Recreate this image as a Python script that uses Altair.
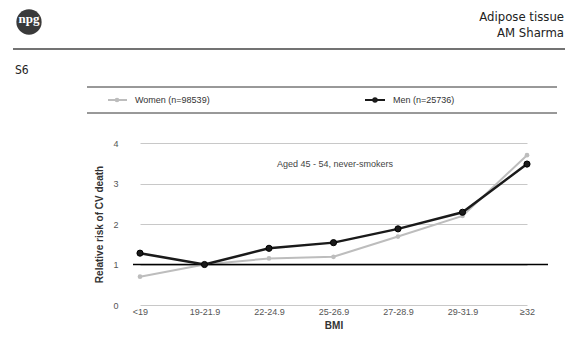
import altair as alt
import pandas as pd

# ---- data ----
bmi = ["<19", "19-21.9", "22-24.9", "25-26.9", "27-28.9", "29-31.9", "≥32"]
women = [0.70, 1.00, 1.15, 1.19, 1.69, 2.20, 3.70]
men = [1.28, 1.00, 1.40, 1.54, 1.88, 2.29, 3.48]
series = ["Women (n=98539)", "Men (n=25736)"]
colors = ["#bdbdbd", "#1a1a1a"]
y_ticks = [0, 1, 2, 3, 4]
note = "Aged 45 - 54, never-smokers"

df = pd.DataFrame({
    "BMI": bmi * 2,
    "Sex": [series[0]] * len(bmi) + [series[1]] * len(bmi),
    "RR": women + men,
})
one = pd.DataFrame({"k": [0]})

FONT = "Liberation Sans"
W, H = 415, 162

x_enc = alt.X(
    "BMI:N", sort=bmi,
    scale=alt.Scale(type="point", range=[7, 394], padding=0),
    axis=alt.Axis(title="BMI", domain=False, ticks=False, labelAngle=0,
                  labelPadding=2, labelFontSize=9, labelColor="#555",
                  labelFont=FONT, titleFont=FONT, titleFontSize=10,
                  titleFontWeight="bold", titleColor="#333", titlePadding=4),
)
y_enc = alt.Y(
    "RR:Q",
    scale=alt.Scale(domain=[0, 4], nice=False),
    axis=alt.Axis(title="Relative risk of CV death", values=y_ticks, grid=True,
                  gridColor="#c8c8c8", domain=False, ticks=False,
                  labelPadding=15, labelFontSize=9, labelColor="#555",
                  labelFont=FONT, titleFont=FONT, titleFontSize=10,
                  titleFontWeight="bold", titleColor="#333", titlePadding=8),
)
color_enc = alt.Color("Sex:N", scale=alt.Scale(domain=series, range=colors), legend=None)

base = alt.Chart(df).encode(x=x_enc, y=y_enc, color=color_enc)

women_line = base.transform_filter(alt.datum.Sex == series[0]).mark_line(strokeWidth=2)
women_pts = base.transform_filter(alt.datum.Sex == series[0]).mark_point(
    filled=True, size=22, opacity=1)
men_line = base.transform_filter(alt.datum.Sex == series[1]).mark_line(strokeWidth=2.5)
men_pts = base.transform_filter(alt.datum.Sex == series[1]).mark_point(
    filled=True, size=38, opacity=1, stroke="#000", strokeWidth=1)

ref_one = alt.Chart(one).mark_rule(color="black", strokeWidth=1.5).encode(y=alt.datum(1))

annot = alt.Chart(one).mark_text(text=note, font=FONT, fontSize=9, color="#444",
                                 align="center", baseline="middle").encode(
    x=alt.value(202), y=alt.value(21))

# ---- legend (manual) ----
leg_top = alt.Chart(one).mark_rule(color="#333", strokeWidth=1).encode(
    x=alt.value(-46), x2=alt.value(424), y=alt.value(-56))
leg_bot = alt.Chart(one).mark_rule(color="#333", strokeWidth=1).encode(
    x=alt.value(-46), x2=alt.value(424), y=alt.value(-30))
w_sym = alt.Chart(one).mark_rule(color=colors[0], strokeWidth=2).encode(
    x=alt.value(-25), x2=alt.value(-6), y=alt.value(-43))
w_dot = alt.Chart(one).mark_point(filled=True, size=22, color=colors[0], opacity=1).encode(
    x=alt.value(-16), y=alt.value(-43))
w_txt = alt.Chart(one).mark_text(text=series[0], font=FONT, fontSize=9, color="#333",
                                 align="left", baseline="middle").encode(
    x=alt.value(2), y=alt.value(-43))
m_sym = alt.Chart(one).mark_rule(color=colors[1], strokeWidth=2).encode(
    x=alt.value(232), x2=alt.value(252), y=alt.value(-43))
m_dot = alt.Chart(one).mark_point(filled=True, size=30, color=colors[1], opacity=1).encode(
    x=alt.value(242), y=alt.value(-43))
m_txt = alt.Chart(one).mark_text(text=series[1], font=FONT, fontSize=9, color="#333",
                                 align="left", baseline="middle").encode(
    x=alt.value(260), y=alt.value(-43))

# ---- page header ----
HFONT = "Liberation Sans Narrow, DejaVu Sans Condensed, Liberation Sans"
logo = alt.Chart(one).mark_point(filled=True, size=640, color="#3a3a3a", opacity=1,
                                 shape="circle").encode(x=alt.value(-104), y=alt.value(-121))
logo_txt = alt.Chart(one).mark_text(text="npg", font="Liberation Serif", fontSize=13,
                                    fontWeight="bold", color="white",
                                    align="center", baseline="middle").encode(
    x=alt.value(-104), y=alt.value(-124))
h1 = alt.Chart(one).mark_text(text="Adipose tissue", font=HFONT, fontSize=13, color="#222",
                              align="right", baseline="middle").encode(
    x=alt.value(431), y=alt.value(-126))
h2 = alt.Chart(one).mark_text(text="AM Sharma", font=HFONT, fontSize=13, color="#222",
                              align="right", baseline="middle").encode(
    x=alt.value(431), y=alt.value(-110))
hline = alt.Chart(one).mark_rule(color="#444", strokeWidth=1.5).encode(
    x=alt.value(-120), x2=alt.value(432), y=alt.value(-94))
s6 = alt.Chart(one).mark_text(text="S6", font=HFONT, fontSize=12, color="#222",
                              align="left", baseline="middle").encode(
    x=alt.value(-118), y=alt.value(-73))

chart = alt.layer(
    women_line, women_pts, ref_one, men_line, men_pts, annot,
    leg_top, leg_bot, w_sym, w_dot, w_txt, m_sym, m_dot, m_txt,
    logo, logo_txt, h1, h2, hline, s6,
).properties(
    width=W, height=H,
    autosize=alt.AutoSizeParams(type="none"),
    padding={"left": 125, "top": 135, "right": 18, "bottom": 26},
    background="white",
).configure_view(stroke=None)

chart.save("out.html", embed_options={"renderer": "svg", "actions": False})
